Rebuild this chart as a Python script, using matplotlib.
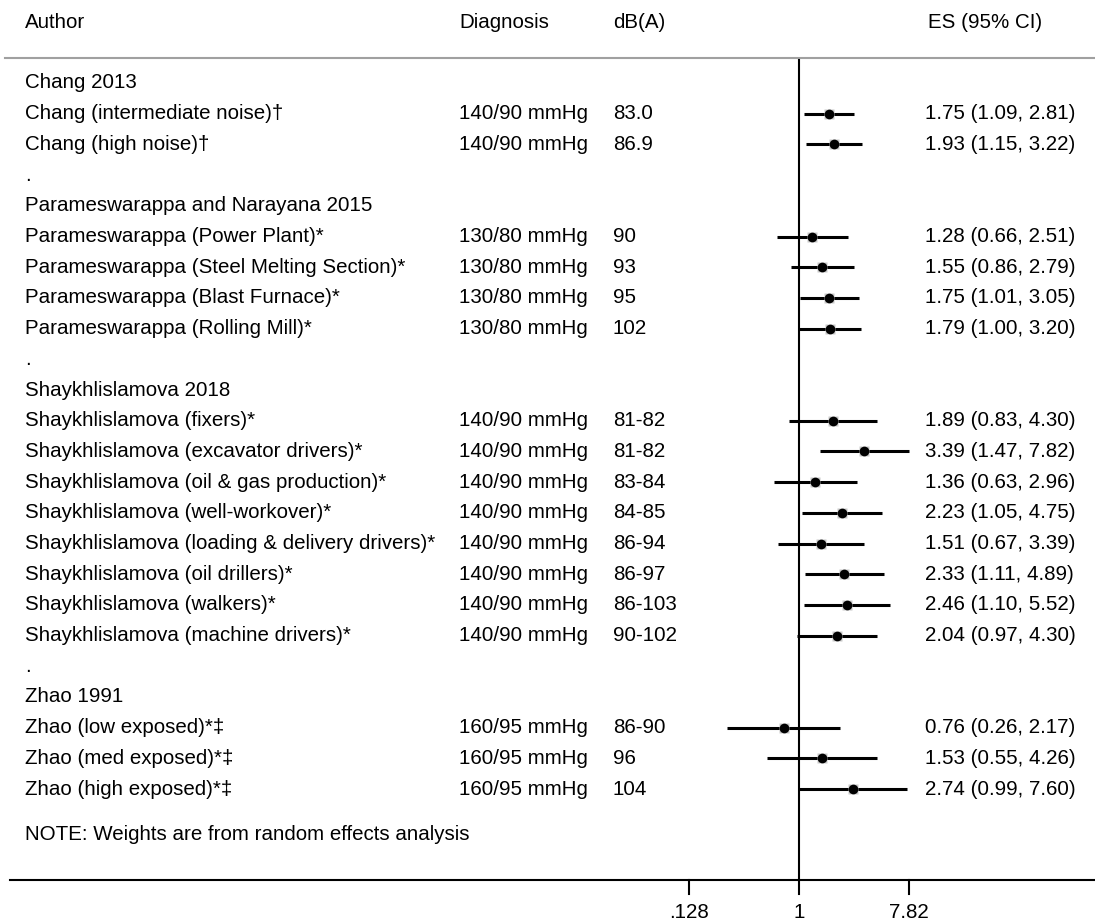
import numpy as np
import matplotlib
matplotlib.use("Agg")
import matplotlib.pyplot as plt
from matplotlib.transforms import blended_transform_factory

plt.rcParams['font.family'] = ['Liberation Sans', 'DejaVu Sans']

# ---- data ----
row_labels = [
    "Chang 2013",
    "Chang (intermediate noise)\u2020",
    "Chang (high noise)\u2020",
    ".",
    "Parameswarappa and Narayana 2015",
    "Parameswarappa (Power Plant)*",
    "Parameswarappa (Steel Melting Section)*",
    "Parameswarappa (Blast Furnace)*",
    "Parameswarappa (Rolling Mill)*",
    ".",
    "Shaykhlislamova 2018",
    "Shaykhlislamova (fixers)*",
    "Shaykhlislamova (excavator drivers)*",
    "Shaykhlislamova (oil & gas production)*",
    "Shaykhlislamova (well-workover)*",
    "Shaykhlislamova (loading & delivery drivers)*",
    "Shaykhlislamova (oil drillers)*",
    "Shaykhlislamova (walkers)*",
    "Shaykhlislamova (machine drivers)*",
    ".",
    "Zhao 1991",
    "Zhao (low exposed)*\u2021",
    "Zhao (med exposed)*\u2021",
    "Zhao (high exposed)*\u2021",
]
diagnosis = ["", "140/90 mmHg", "140/90 mmHg", "",
             "", "130/80 mmHg", "130/80 mmHg", "130/80 mmHg", "130/80 mmHg", "",
             "", "140/90 mmHg", "140/90 mmHg", "140/90 mmHg", "140/90 mmHg",
             "140/90 mmHg", "140/90 mmHg", "140/90 mmHg", "140/90 mmHg", "",
             "", "160/95 mmHg", "160/95 mmHg", "160/95 mmHg"]
dba = ["", "83.0", "86.9", "",
       "", "90", "93", "95", "102", "",
       "", "81-82", "81-82", "83-84", "84-85", "86-94", "86-97", "86-103", "90-102", "",
       "", "86-90", "96", "104"]
es = [None, 1.75, 1.93, None,
      None, 1.28, 1.55, 1.75, 1.79, None,
      None, 1.89, 3.39, 1.36, 2.23, 1.51, 2.33, 2.46, 2.04, None,
      None, 0.76, 1.53, 2.74]
lo = [None, 1.09, 1.15, None,
      None, 0.66, 0.86, 1.01, 1.00, None,
      None, 0.83, 1.47, 0.63, 1.05, 0.67, 1.11, 1.10, 0.97, None,
      None, 0.26, 0.55, 0.99]
hi = [None, 2.81, 3.22, None,
      None, 2.51, 2.79, 3.05, 3.20, None,
      None, 4.30, 7.82, 2.96, 4.75, 3.39, 4.89, 5.52, 4.30, None,
      None, 2.17, 4.26, 7.60]
tick_vals = [0.128, 1.0, 7.82]
tick_labels = [".128", "1", "7.82"]
headers = ["Author", "Diagnosis", "dB(A)", "ES (95% CI)"]
note = "NOTE: Weights are from random effects analysis"

# ---- layout ----
W, H = 1095, 924
fig = plt.figure(figsize=(W / 100, H / 100), dpi=100)
ax = fig.add_axes([0, 0, 1, 1])
ax.set_xscale('log')
scale = 110.0 / np.log(7.82)   # pixels per ln unit
x0 = 799.0                      # pixel of value 1
def px2v(p):
    return float(np.exp((p - x0) / scale))
ax.set_xlim(px2v(0), px2v(W))
ax.set_ylim(H, 0)
ax.axis('off')

tr = blended_transform_factory(fig.transFigure, ax.transData)
def fx(p):
    return p / W

fs = 14.8
col_author, col_diag, col_db, col_es = 25, 459, 613, 925

# header
ax.text(fx(col_author), 22, headers[0], transform=tr, fontsize=fs, va='center', ha='left')
ax.text(fx(col_diag), 22, headers[1], transform=tr, fontsize=fs, va='center', ha='left')
ax.text(fx(col_db), 22, headers[2], transform=tr, fontsize=fs, va='center', ha='left')
ax.text(fx(928), 22, headers[3], transform=tr, fontsize=fs, va='center', ha='left')
ax.plot([fx(5), fx(W)], [58, 58], transform=tr, color='#a0a0a0', lw=1.5)

row0, dy = 83.0, 30.7
for i, lab in enumerate(row_labels):
    y = row0 + dy * i
    ax.text(fx(col_author), y, lab, transform=tr, fontsize=fs, va='center', ha='left')
    if diagnosis[i]:
        ax.text(fx(col_diag), y, diagnosis[i], transform=tr, fontsize=fs, va='center', ha='left')
    if dba[i]:
        ax.text(fx(col_db), y, dba[i], transform=tr, fontsize=fs, va='center', ha='left')
    if es[i] is not None:
        ax.plot([lo[i], hi[i]], [y, y], color='black', lw=2.2, solid_capstyle='butt', zorder=3)
        ax.plot([es[i]], [y], marker='s', ms=7.5, color='#c8c8c8', mec='none', zorder=4)
        ax.plot([es[i]], [y], marker='o', ms=7, color='black', mec='none', zorder=5)
        ax.text(fx(col_es), y, f"{es[i]:.2f} ({lo[i]:.2f}, {hi[i]:.2f})",
                transform=tr, fontsize=fs, va='center', ha='left')

ax.text(fx(col_author), 834, note, transform=tr, fontsize=fs, va='center', ha='left')

# null line
ax.plot([1, 1], [60, 880], color='black', lw=1.5, zorder=2)
# x axis
ax.plot([fx(10), fx(W)], [880, 880], transform=tr, color='black', lw=1.5)
for v, t in zip(tick_vals, tick_labels):
    ax.plot([v, v], [880, 894], color='black', lw=1.5)
    ax.text(v, 913, t, fontsize=fs, ha='center', va='center')

fig.savefig("out.png", dpi=100)
